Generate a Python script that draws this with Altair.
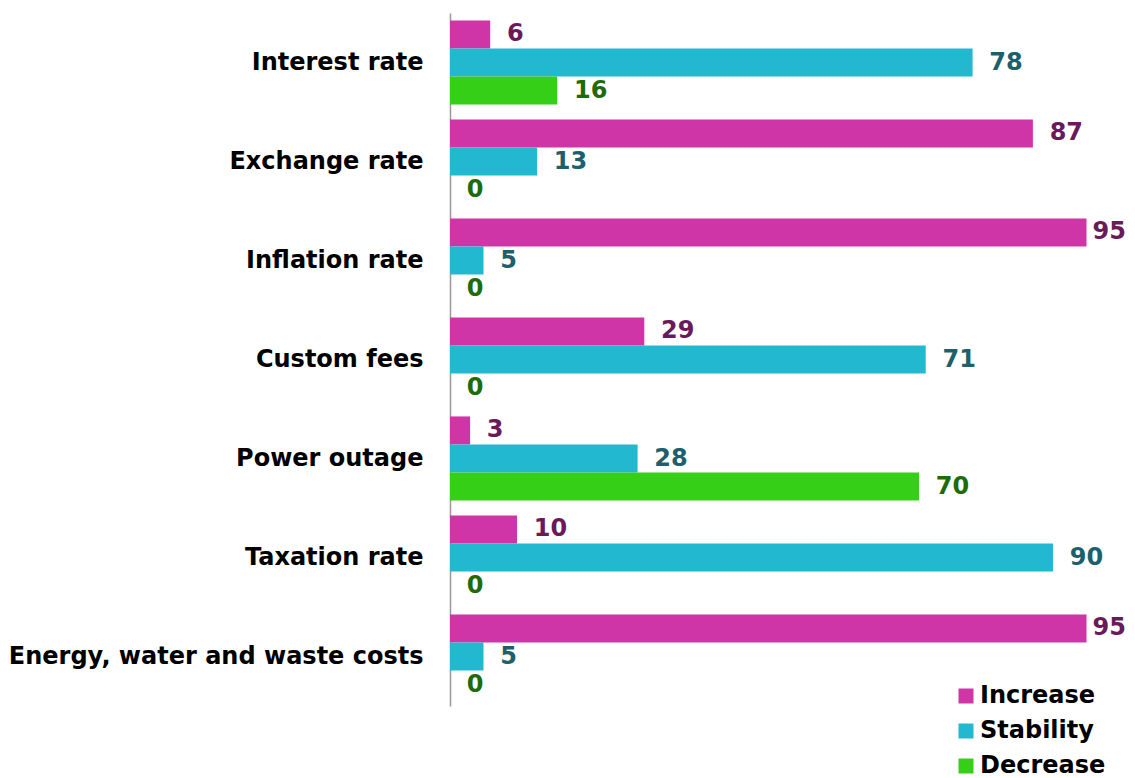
import altair as alt
import pandas as pd

categories = ["Interest rate", "Exchange rate", "Inflation rate", "Custom fees",
              "Power outage", "Taxation rate", "Energy, water and waste costs"]
series = ["Increase", "Stability", "Decrease"]
increase = [6, 87, 95, 29, 3, 10, 95]
stability = [78, 13, 5, 71, 28, 90, 5]
decrease = [16, 0, 0, 0, 70, 0, 0]

bar_colors = ["#D035A8", "#21B8D0", "#36CF17"]
label_colors = ["#6A1A5A", "#1D5F6C", "#1E6B0A"]

rows = []
for i, c in enumerate(categories):
    for s, vals in zip(series, [increase, stability, decrease]):
        rows.append({"category": c, "series": s, "value": vals[i]})
df = pd.DataFrame(rows)

FONT = "DejaVu Sans"
FS = 24

y_enc = alt.Y("category:N", sort=categories, title=None,
              scale=alt.Scale(paddingInner=0.15, paddingOuter=0.075),
              axis=alt.Axis(ticks=False, grid=False, domainColor="#999999", domainWidth=1.5,
                            labelFontSize=FS, labelFont=FONT, labelFontWeight="bold",
                            labelColor="#000000", labelPadding=27, labelLimit=440))
yoff = alt.YOffset("series:N", sort=series, scale=alt.Scale(paddingInner=0, paddingOuter=0))
x_scale = alt.Scale(domain=[0, 100])

base = alt.Chart(df)

bars = base.mark_bar().encode(
    y=y_enc, yOffset=yoff,
    x=alt.X("value:Q", scale=x_scale, axis=None),
    color=alt.Color("series:N", sort=series,
                    scale=alt.Scale(domain=series, range=bar_colors),
                    legend=alt.Legend(title=None, orient="none", legendX=504, legendY=671,
                                      symbolType="square", symbolSize=225, symbolStrokeWidth=0,
                                      labelFontSize=FS, labelFont=FONT, labelFontWeight="bold",
                                      labelColor="#000000", labelOffset=2, rowPadding=11,
                                      padding=0)),
)

# label sits just past the bar end, kept inside the chart for long bars
texts = base.transform_calculate(
    pos="min(datum.value + 2.5, 95.9)"
).mark_text(align="left", baseline="middle", fontSize=FS,
            font=FONT, fontWeight="bold").encode(
    y=alt.Y("category:N", sort=categories), yOffset=yoff,
    x=alt.X("pos:Q", scale=x_scale),
    text=alt.Text("value:Q"),
    color=alt.Color("series:N", sort=series,
                    scale=alt.Scale(domain=series, range=label_colors), legend=None),
)

chart = alt.layer(bars, texts).resolve_scale(color="independent").properties(
    width=670, height=693,
    autosize=alt.AutoSizeParams(type="none"),
    padding={"left": 442, "top": 5, "right": 7, "bottom": 72},
).configure_view(stroke=None)

chart.save("out.html", embed_options={"renderer": "svg", "actions": False})
